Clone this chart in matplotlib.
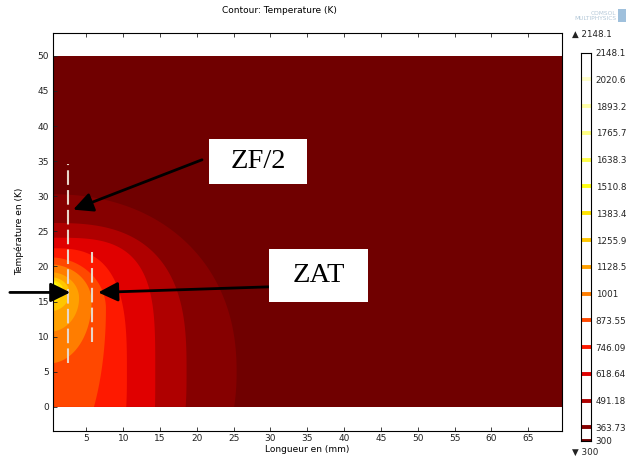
import numpy as np
import matplotlib
matplotlib.use('Agg')
import matplotlib.pyplot as plt
from matplotlib.colors import LinearSegmentedColormap, Normalize
from matplotlib.patches import Rectangle

# temperature range and contour levels (K)
t_min, t_max = 300.0, 2148.1
levels = [363.73, 491.18, 618.64, 746.09, 873.55, 1001.0, 1128.5,
          1255.9, 1383.4, 1510.8, 1638.3, 1765.7, 1893.2, 2020.6]
level_labels = ['363.73', '491.18', '618.64', '746.09', '873.55', '1001',
                '1128.5', '1255.9', '1383.4', '1510.8', '1638.3', '1765.7',
                '1893.2', '2020.6']

# isotherm shapes (mm): centre on the x=0 edge, horizontal reach,
# reach above / below the centre, superellipse exponent
iso_yc = [5.0, 5.0, 5.0, 5.0, 14.0, 15.0, 15.5, 16.2, 16.6, 16.8, 16.9, 17.0, 17.0, 17.0]
iso_a = [25.4, 18.6, 14.35, 10.5, 7.65, 5.7, 4.0, 2.7, 1.85, 1.25, 0.85, 0.55, 0.35, 0.2]
iso_bup = [25.3, 21.2, 19.1, 17.6, 7.3, 5.3, 3.7, 2.3, 1.5, 1.1, 0.8, 0.55, 0.35, 0.2]
iso_bdn = [25.0, 21.0, 19.0, 17.0, 22.7, 8.8, 4.8, 2.6, 1.8, 1.2, 0.8, 0.55, 0.35, 0.2]
iso_p = [2.2, 2.8, 3.5, 3.0, 2.0, 2.0, 2.0, 2.0, 2.0, 2.0, 2.0, 2.0, 2.0, 2.0]

# domain (mm)
dom_w, dom_h = 70.0, 50.0

# dashed markers for the two zones
zf_x, zf_y = 2.5, (6.3, 34.6)
zat_x, zat_y = 5.8, (9.2, 22.1)

cmap = LinearSegmentedColormap.from_list('thermal', [
    (0.00, '#700000'), (0.0345, '#880000'), (0.1033, '#b00000'),
    (0.1722, '#e00000'), (0.2414, '#ff1a00'), (0.3102, '#ff4800'),
    (0.3792, '#ff7c00'), (0.448, '#ffa000'), (0.517, '#ffc600'),
    (0.586, '#ffe200'), (0.655, '#ffff10'), (0.793, '#ffff80'),
    (0.931, '#ffffc8'), (1.0, '#ffffff')])
norm = Normalize(t_min, t_max)

fig = plt.figure(figsize=(6.3, 4.57), dpi=100)
ax = fig.add_axes([0.0846, 0.0575, 0.8075, 0.8709])
ax.set_facecolor('white')

# background band below the first level
ax.fill([0, dom_w, dom_w, 0], [0, 0, dom_h, dom_h], color=cmap(norm(t_min)), lw=0)

th = np.linspace(-np.pi / 2, np.pi / 2, 400)
for i, lev in enumerate(levels):
    c, s = np.cos(th), np.sin(th)
    e = 2.0 / iso_p[i]
    xs = iso_a[i] * np.abs(c) ** e
    b = np.where(s > 0, iso_bup[i], iso_bdn[i])
    ys = iso_yc[i] + b * np.sign(s) * np.abs(s) ** e
    ys = np.clip(ys, 0, dom_h)
    ax.fill(xs, ys, color=cmap(norm(lev)), lw=0)

# zone markers
dash_col = '#e8d6c8'
ax.plot([zf_x, zf_x], zf_y, color=dash_col, lw=1.5, ls=(0, (7, 2.5)))
ax.plot([zat_x, zat_x], zat_y, color=dash_col, lw=1.5, ls=(0, (7, 2.5)))

ax.set_xlim(0.5, 69.6)
ax.set_ylim(-3.4, 53.3)
ax.set_xticks(np.arange(5, 70, 5))
ax.set_yticks(np.arange(0, 55, 5))
ax.tick_params(direction='in', length=3, width=0.6, labelsize=6.5,
               colors='#222222', top=True, pad=3)
ax.tick_params(axis='x', pad=2.5)
for sp in ax.spines.values():
    sp.set_linewidth(0.8)
ax.set_xlabel('Longueur en (mm)', fontsize=6.5, labelpad=1.5)
ax.set_ylabel('Température en (K)', fontsize=6.5, labelpad=10)

# arrows
ap = dict(arrowstyle='-|>,head_length=0.85,head_width=0.42', mutation_scale=14,
          lw=2.0, color='black', shrinkA=0, shrinkB=0)
ax.annotate('', xy=(3.2, 28.1), xytext=(20.7, 35.2), arrowprops=ap)
ax.annotate('', xy=(2.8, 16.3), xytext=(-5.4, 16.3), arrowprops=ap,
            annotation_clip=False)
ax.annotate('', xy=(6.6, 16.3), xytext=(29.9, 17.1), arrowprops=ap)

# labelled boxes
ax.add_patch(Rectangle((21.6, 31.7), 13.4, 6.5, facecolor='white', edgecolor='none', zorder=5))
ax.text(28.3, 34.9, 'ZF/2', fontsize=20.5, family='Liberation Serif',
        ha='center', va='center', zorder=6)
ax.add_patch(Rectangle((29.8, 15.0), 13.4, 7.5, facecolor='white', edgecolor='none', zorder=5))
ax.text(36.5, 18.7, 'ZAT', fontsize=20.5, family='Liberation Serif',
        ha='center', va='center', zorder=6)

fig.text(0.444, 0.976, 'Contour: Temperature (K)', fontsize=6.5, ha='center', va='center')
fig.text(0.978, 0.966, 'COMSOL\nMULTIPHYSICS', fontsize=4.2, color='#b4c8d8',
         ha='right', va='center', linespacing=1.0)
fig.patches.append(Rectangle((0.981, 0.952), 0.012, 0.028, transform=fig.transFigure,
                             facecolor='#9fc0dc', edgecolor='none', figure=fig))

# legend bar with level lines
cax = fig.add_axes([0.9217, 0.0357, 0.0159, 0.849])
cax.set_facecolor('white')
cax.set_xlim(0, 1)
cax.set_ylim(t_min, t_max)
for lev in [t_min] + levels + [t_max]:
    cax.axhline(lev, color=cmap(norm(lev)), lw=2.8)
cax.set_xticks([])
cax.yaxis.tick_right()
cax.set_yticks([t_min] + levels + [t_max])
cax.set_yticklabels(['300'] + level_labels + ['2148.1'])
cax.tick_params(axis='y', length=0, labelsize=6.3, pad=3.5, colors='#222222')
for sp in cax.spines.values():
    sp.set_linewidth(0.8)
fig.text(0.908, 0.925, '\u25b2 2148.1', fontsize=6.3, va='center', color='#222222')
fig.text(0.908, 0.011, '\u25bc 300', fontsize=6.3, va='center', color='#222222')

fig.savefig('out.png', dpi=100)
